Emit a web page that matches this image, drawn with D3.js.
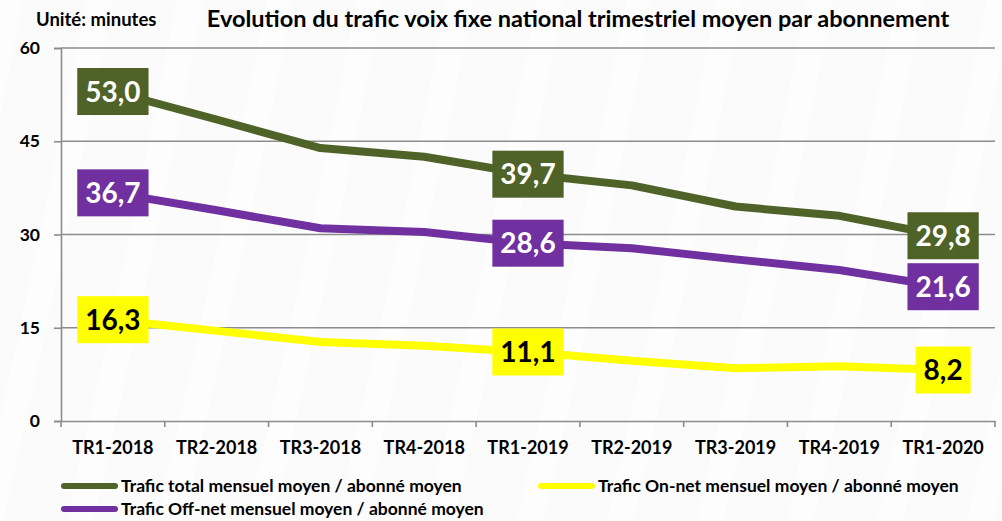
<!DOCTYPE html>
<html><head><meta charset="utf-8">
<script src="https://cdn.jsdelivr.net/npm/d3@7"></script>
<style>
html,body{margin:0;padding:0;background:#fbfbfb;}
svg{display:block;font-family:Lato,"Open Sans",sans-serif;font-weight:bold;}
</style></head>
<body>
<svg id="c" width="1002" height="521"></svg>
<script>
const categories = ["TR1-2018","TR2-2018","TR3-2018","TR4-2018","TR1-2019","TR2-2019","TR3-2019","TR4-2019","TR1-2020"];
const totalValues = [53.0, 48.5, 43.9, 42.5, 39.7, 37.9, 34.5, 33.0, 29.8];
const offnetValues = [36.7, 33.9, 31.0, 30.4, 28.6, 27.8, 26.0, 24.3, 21.6];
const onnetValues = [16.3, 14.5, 12.7, 12.1, 11.1, 9.7, 8.5, 8.8, 8.2];
const yTicks = [0, 15, 30, 45, 60];
const labelIndexes = [0, 4, 8];
const seriesNames = ["Trafic total mensuel moyen / abonné moyen","Trafic Off-net mensuel moyen / abonné moyen","Trafic On-net mensuel moyen / abonné moyen"];
const seriesColors = ["#4F6228","#7030A0","#FFFF00"];
const labelTextColors = ["#ffffff","#ffffff","#000000"];

const series = [
  {name: seriesNames[0], values: totalValues, color: seriesColors[0], text: labelTextColors[0]},
  {name: seriesNames[1], values: offnetValues, color: seriesColors[1], text: labelTextColors[1]},
  {name: seriesNames[2], values: onnetValues, color: seriesColors[2], text: labelTextColors[2]}
];

const svg = d3.select("#c");
const L = 61, R = 995, T = 48, B = 421;

// subtle background stripes
const bg = svg.append("g");
for (let i = 0; i < 14; i++) {
  bg.append("path")
    .attr("d", `M${-100 + i*90},521 Q${-40 + i*90},260 ${10 + i*90},0`)
    .attr("fill","none").attr("stroke","#ffffff").attr("stroke-width",26).attr("opacity",0.6);
}

const x = d3.scaleBand().domain(categories).range([L, R]).padding(0);
const y = d3.scaleLinear().domain([0, 60]).range([B, T]);
const cx = d => x(d) + x.bandwidth()/2;

// gridlines
svg.append("g").selectAll("line").data(yTicks.filter(t => t > 0)).join("line")
  .attr("x1", L).attr("x2", R).attr("y1", d => y(d)).attr("y2", d => y(d))
  .attr("stroke","#8c8c8c").attr("stroke-width",1.6);

// y axis
const yAxis = svg.append("g").attr("transform",`translate(${L},0)`)
  .call(d3.axisLeft(y).tickValues(yTicks).tickSize(7).tickPadding(14).tickFormat(d3.format("d")));
yAxis.select(".domain").attr("stroke","#8c8c8c").attr("stroke-width",1.6);
yAxis.selectAll(".tick line").attr("stroke","#8c8c8c").attr("stroke-width",1.6);
yAxis.selectAll("text").attr("font-size",17.5).attr("font-weight","bold").attr("fill","#000")
  .attr("font-family","Lato, sans-serif");

// x axis
const xAxis = svg.append("g").attr("transform",`translate(0,${B})`)
  .call(d3.axisBottom(x).tickSize(0).tickPadding(20));
xAxis.select(".domain").attr("stroke","#8c8c8c").attr("stroke-width",1.6);
xAxis.selectAll("text").attr("font-size",18).attr("font-weight","bold").attr("fill","#000")
  .attr("font-family","Lato, sans-serif");
// boundary ticks
const bounds = categories.map(c => x(c)).concat([R]);
svg.append("g").selectAll("line").data(bounds).join("line")
  .attr("x1", d => d).attr("x2", d => d).attr("y1", B).attr("y2", B + 6)
  .attr("stroke","#8c8c8c").attr("stroke-width",1.6);

// lines
const line = d3.line().x((d,i) => cx(categories[i])).y(d => y(d));
svg.append("g").selectAll("path").data(series).join("path")
  .attr("d", d => line(d.values)).attr("fill","none")
  .attr("stroke", d => d.color).attr("stroke-width",8)
  .attr("stroke-linejoin","round");

// labels
const lg = svg.append("g");
series.forEach(s => {
  labelIndexes.forEach(i => {
    const txt = d3.format(".1f")(s.values[i]).replace(".", ",");
    const g = lg.append("g").attr("transform",`translate(${cx(categories[i])},${y(s.values[i])})`);
    const t = g.append("text").text(txt).attr("text-anchor","middle").attr("dy","0.36em")
      .attr("font-size",28).attr("font-weight","bold").attr("fill",s.text);
    const w = t.node().getComputedTextLength();
    g.insert("rect","text").attr("x",-w/2-8).attr("y",-23.5).attr("width",w+16).attr("height",47)
      .attr("fill",s.color);
  });
});

// title
svg.append("text").attr("x",36).attr("y",26).text("Unité: minutes")
  .attr("font-size",18.5).attr("fill","#000");
svg.append("text").attr("x",578).attr("y",27).attr("text-anchor","middle")
  .text("Evolution du trafic voix fixe national trimestriel moyen par abonnement")
  .attr("font-size",23.5).attr("fill","#000");

// legend
const legendPos = [[61,486],[61,509],[538,486]];
series.forEach((s,i) => {
  const [lx, ly] = legendPos[i];
  svg.append("line").attr("x1",lx+3).attr("x2",lx+54).attr("y1",ly).attr("y2",ly)
    .attr("stroke",s.color).attr("stroke-width",6).attr("stroke-linecap","round");
  svg.append("text").attr("x",lx+60).attr("y",ly+6).text(s.name)
    .attr("font-size",17.5).attr("fill","#000");
});
</script>
</body></html>
